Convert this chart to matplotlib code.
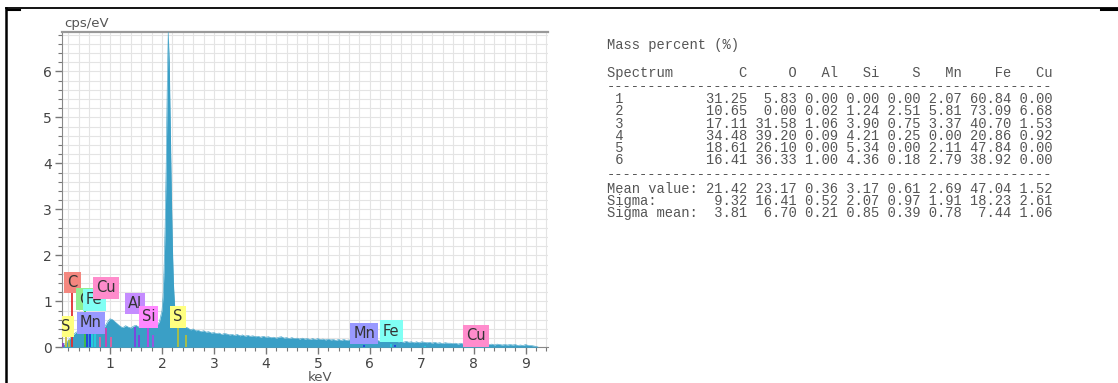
import matplotlib
matplotlib.use("Agg")
import matplotlib.pyplot as plt
from matplotlib.lines import Line2D
from matplotlib.ticker import MultipleLocator

# ---------------- spectrum data (keV, cps/eV) ----------------
energy = [0.08, 0.10, 0.15, 0.20, 0.25, 0.30, 0.35, 0.40, 0.45, 0.50, 0.55, 0.60, 0.65, 0.70,
          0.75, 0.80, 0.85, 0.90, 0.95, 1.00, 1.05, 1.10, 1.15, 1.20, 1.25, 1.30, 1.35, 1.40,
          1.45, 1.50, 1.55, 1.60, 1.65, 1.70, 1.75, 1.80, 1.85, 1.90, 1.95, 2.00, 2.02, 2.04,
          2.06, 2.08, 2.10, 2.12, 2.14, 2.16, 2.18, 2.20, 2.22, 2.24, 2.26, 2.28, 2.30, 2.35,
          2.40, 2.45, 2.50, 2.55, 2.60, 2.65, 2.70, 2.75, 2.80, 2.85, 2.90, 2.95, 3.00, 3.05,
          3.10, 3.15, 3.20, 3.25, 3.30, 3.35, 3.40, 3.45, 3.50, 3.55, 3.60, 3.65, 3.70, 3.75,
          3.80, 3.85, 3.90, 3.95, 4.00, 4.05, 4.10, 4.15, 4.20, 4.25, 4.30, 4.35, 4.40, 4.45,
          4.50, 4.55, 4.60, 4.65, 4.70, 4.75, 4.80, 4.85, 4.90, 4.95, 5.00, 5.05, 5.10, 5.15,
          5.20, 5.25, 5.30, 5.35, 5.40, 5.45, 5.50, 5.55, 5.60, 5.65, 5.70, 5.75, 5.80, 5.85,
          5.90, 5.95, 6.00, 6.05, 6.10, 6.15, 6.20, 6.25, 6.30, 6.35, 6.40, 6.45, 6.50, 6.55,
          6.60, 6.65, 6.70, 6.75, 6.80, 6.85, 6.90, 6.95, 7.00, 7.05, 7.10, 7.15, 7.20, 7.25,
          7.30, 7.35, 7.40, 7.45, 7.50, 7.55, 7.60, 7.65, 7.70, 7.75, 7.80, 7.85, 7.90, 7.95,
          8.00, 8.05, 8.10, 8.15, 8.20, 8.25, 8.30, 8.35, 8.40, 8.45, 8.50, 8.55, 8.60, 8.65,
          8.70, 8.75, 8.80, 8.85, 8.90, 8.95, 9.00, 9.05, 9.10, 9.15, 9.20, 9.25]
counts = [0.00, 0.05, 0.10, 0.15, 0.22, 0.28, 0.33, 0.35, 0.38, 0.40, 0.42, 0.38, 0.40, 0.36,
          0.38, 0.35, 0.40, 0.45, 0.55, 0.62, 0.60, 0.55, 0.50, 0.45, 0.43, 0.47, 0.44, 0.42,
          0.46, 0.48, 0.44, 0.47, 0.50, 0.46, 0.49, 0.45, 0.50, 0.48, 0.55, 0.80, 1.10, 1.70,
          2.60, 3.90, 5.60, 6.85, 6.20, 4.80, 3.40, 2.20, 1.40, 0.95, 0.70, 0.58, 0.52, 0.50,
          0.46, 0.44, 0.42, 0.38, 0.40, 0.36, 0.37, 0.34, 0.36, 0.33, 0.34, 0.31, 0.32, 0.30,
          0.31, 0.28, 0.30, 0.29, 0.27, 0.28, 0.26, 0.28, 0.25, 0.27, 0.24, 0.26, 0.24, 0.25,
          0.23, 0.24, 0.22, 0.24, 0.22, 0.23, 0.21, 0.22, 0.20, 0.22, 0.23, 0.20, 0.21, 0.19,
          0.21, 0.19, 0.20, 0.18, 0.20, 0.18, 0.19, 0.17, 0.19, 0.17, 0.19, 0.17, 0.18, 0.16,
          0.18, 0.16, 0.17, 0.15, 0.17, 0.15, 0.17, 0.15, 0.16, 0.14, 0.16, 0.14, 0.16, 0.15,
          0.16, 0.14, 0.15, 0.14, 0.13, 0.15, 0.13, 0.14, 0.13, 0.15, 0.16, 0.13, 0.14, 0.12,
          0.13, 0.11, 0.13, 0.11, 0.12, 0.10, 0.12, 0.10, 0.12, 0.11, 0.10, 0.11, 0.09, 0.11,
          0.09, 0.10, 0.08, 0.10, 0.09, 0.09, 0.08, 0.09, 0.07, 0.09, 0.07, 0.08, 0.07, 0.08,
          0.09, 0.08, 0.07, 0.08, 0.06, 0.07, 0.06, 0.07, 0.05, 0.07, 0.06, 0.05, 0.06, 0.05,
          0.06, 0.05, 0.06, 0.04, 0.05, 0.04, 0.06, 0.04, 0.04, 0.03, 0.02, 0.00]

# ---------------- element marker lines ----------------
marker_energy = [0.10, 0.147, 0.217, 0.277, 0.525, 0.563, 0.615, 0.647, 0.705, 0.811, 0.930,
                 1.020, 1.486, 1.557, 1.740, 1.836, 2.307, 2.464, 5.895, 6.400, 6.490, 7.058, 8.040]
marker_height = [0.10, 0.27, 0.15, 1.25, 0.88, 0.30, 0.35, 0.34, 0.34, 0.23, 0.41,
                 0.23, 0.45, 0.27, 0.48, 0.27, 0.48, 0.27, 0.05, 0.08, 0.05, 0.03, 0.05]
marker_color = ["#9040c0", "#c8c040", "#b0c040", "#e03030", "#40c040", "#2040e0", "#2040e0",
                "#20d0e0", "#20d0e0", "#e060a0", "#d040b0", "#e060a0", "#8040e0", "#8040e0",
                "#c040e0", "#a050e0", "#b0c040", "#b0c040", "#2040e0", "#20d0e0", "#2040e0",
                "#20d0e0", "#e060a0"]

# ---------------- element labels ----------------
label_text = ["S", "C", "O", "Fe", "Cu", "Mn", "Al", "Si", "S", "Mn", "Fe", "Cu"]
label_x = [0.153, 0.272, 0.525, 0.696, 0.920, 0.634, 1.480, 1.740, 2.310, 5.890, 6.410, 8.040]
label_y = [0.45, 1.41, 1.05, 1.03, 1.29, 0.53, 0.95, 0.66, 0.66, 0.30, 0.35, 0.25]
label_color = ["#ffff80", "#f4877f", "#90ee90", "#80fff4", "#ff8ccc", "#9999ff", "#c58cff",
               "#ff88ff", "#ffff80", "#9999ff", "#80fff4", "#ff8ccc"]

# ---------------- table data ----------------
elements = ["C", "O", "Al", "Si", "S", "Mn", "Fe", "Cu"]
spectra = ["1", "2", "3", "4", "5", "6"]
mass = [
    [31.25, 5.83, 0.00, 0.00, 0.00, 2.07, 60.84, 0.00],
    [10.65, 0.00, 0.02, 1.24, 2.51, 5.81, 73.09, 6.68],
    [17.11, 31.58, 1.06, 3.90, 0.75, 3.37, 40.70, 1.53],
    [34.48, 39.20, 0.09, 4.21, 0.25, 0.00, 20.86, 0.92],
    [18.61, 26.10, 0.00, 5.34, 0.00, 2.11, 47.84, 0.00],
    [16.41, 36.33, 1.00, 4.36, 0.18, 2.79, 38.92, 0.00],
]
stat_names = ["Mean value:", "Sigma:", "Sigma mean:"]
stats = [
    [21.42, 23.17, 0.36, 3.17, 0.61, 2.69, 47.04, 1.52],
    [9.32, 16.41, 0.52, 2.07, 0.97, 1.91, 18.23, 2.61],
    [3.81, 6.70, 0.21, 0.85, 0.39, 0.78, 7.44, 1.06],
]

W, H = 1118, 383
fig = plt.figure(figsize=(W / 100, H / 100), dpi=100)
fig.patch.set_facecolor("white")

def fx(px):
    return px / W

def fy(py):
    return 1 - py / H

# frame lines
fig.add_artist(Line2D([fx(6), fx(1118)], [fy(8.3), fy(8.3)], color="black", lw=1.3))
fig.add_artist(Line2D([fx(6.3), fx(6.3)], [fy(8), fy(383)], color="black", lw=1.8))
fig.add_artist(Line2D([fx(7), fx(20)], [fy(9.5), fy(9.5)], color="black", lw=1.5))
fig.add_artist(Line2D([fx(1101), fx(1118)], [fy(9.3), fy(9.3)], color="black", lw=2.2))

ax = fig.add_axes([fx(61.7), fy(347.3), fx(548) - fx(61.7), fy(32.3) - fy(347.3)])
ax.set_xlim(0.07, 9.43)
ax.set_ylim(0, 6.85)

ax.fill_between(energy, counts, 0, color="#3a9fc6", lw=0, zorder=3)
ax.plot(energy, counts, color="#3a9fc6", lw=0.4, zorder=3)

for e, h, c in zip(marker_energy, marker_height, marker_color):
    ax.plot([e, e], [0, h], color=c, lw=1.3, zorder=4, solid_capstyle="butt")

for t, x, y, c in zip(label_text, label_x, label_y, label_color):
    ax.text(x, y, t, ha="center", va="center", fontsize=10.5, color="#333333",
            family="DejaVu Sans", zorder=5, clip_on=True,
            bbox=dict(boxstyle="square,pad=0.22", fc=c, ec="none"))

# grid / ticks
ax.xaxis.set_major_locator(MultipleLocator(1))
ax.xaxis.set_minor_locator(MultipleLocator(0.2))
ax.yaxis.set_major_locator(MultipleLocator(1))
ax.yaxis.set_minor_locator(MultipleLocator(0.2))
ax.grid(True, which="both", color="#e4e4e4", lw=0.8, zorder=0)
ax.set_axisbelow(True)
ax.tick_params(which="major", length=5, color="#777777", width=1.0, labelsize=10,
               labelcolor="#444444", pad=2)
ax.tick_params(which="minor", length=3, color="#777777", width=0.8)
ax.set_xticks([1, 2, 3, 4, 5, 6, 7, 8, 9])
ax.set_yticks([0, 1, 2, 3, 4, 5, 6])
for lab in ax.get_xticklabels() + ax.get_yticklabels():
    lab.set_family("DejaVu Sans")
ax.spines["right"].set_visible(False)
ax.spines["left"].set_color("#888888")
ax.spines["bottom"].set_color("#888888")
ax.spines["top"].set_color("#999999")
ax.spines["top"].set_linewidth(1.6)

fig.text(fx(64), fy(24), "cps/eV", fontsize=9.5, color="#555555", ha="left", va="center",
         family="DejaVu Sans")
fig.text(fx(320), fy(377.5), "keV", fontsize=9.5, color="#555555", ha="center", va="center",
         family="DejaVu Sans")

# ---------------- table text ----------------
mono = dict(family="Liberation Mono", fontsize=9.9, color="#555555", ha="left", va="center")
x0 = fx(607)
widths = [5, 6, 5, 5, 5, 5, 6, 5]

def fmt_row(head, vals):
    s = f"{head:<12}"
    for v, w in zip(vals, widths):
        s += f"{v:>{w}.2f}"
    return s

header = f"{'Spectrum':<12}" + "".join(f"{e:>{w}}" for e, w in zip(elements, widths))
dash = "-" * 54

fig.text(x0, fy(45), "Mass percent (%)", **mono)
fig.text(x0, fy(73), header, **mono)
fig.text(x0, fy(86), dash, **mono)
row_y = [99, 111, 123.5, 136, 148, 160.5]
for s, vals, y in zip(spectra, mass, row_y):
    fig.text(x0, fy(y), fmt_row(" " + s, vals), **mono)
fig.text(x0, fy(174), dash, **mono)
stat_y = [189, 201, 213]
for n, vals, y in zip(stat_names, stats, stat_y):
    fig.text(x0, fy(y), fmt_row(n, vals), **mono)

fig.savefig("out.png", dpi=100, facecolor="white")
